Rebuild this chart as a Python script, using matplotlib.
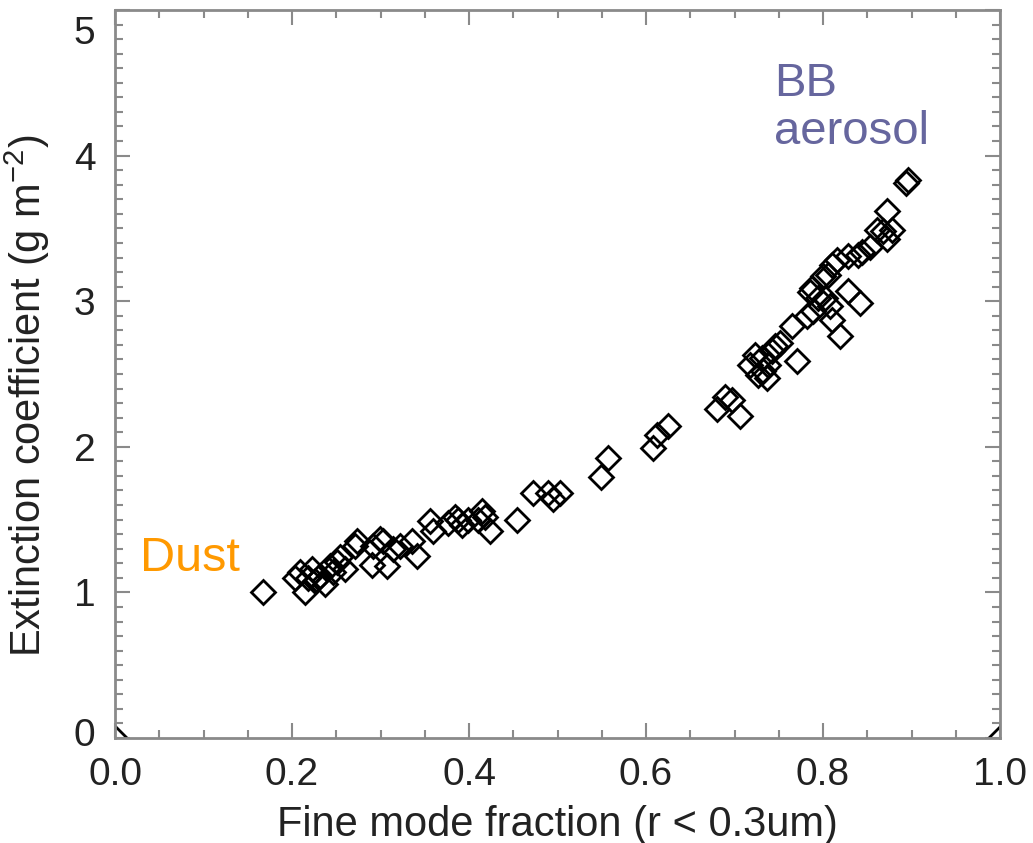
"""Extinction coefficient vs fine mode fraction (dust -> BB aerosol)."""

import matplotlib
matplotlib.use("Agg")
import matplotlib.pyplot as plt
from matplotlib.ticker import MultipleLocator
import matplotlib.transforms as mtransforms

plt.rcParams["font.family"] = ["Liberation Sans", "DejaVu Sans"]
plt.rcParams["mathtext.default"] = "regular"

# values
fine_fraction = [
    0.000, 1.000,
    0.167, 0.203, 0.209, 0.215, 0.223, 0.226, 0.232, 0.218, 0.243, 0.246,
    0.237, 0.251, 0.254, 0.260, 0.271, 0.273, 0.290, 0.292, 0.299, 0.303,
    0.307, 0.314, 0.322, 0.336, 0.341, 0.356, 0.359, 0.376, 0.388, 0.392,
    0.399, 0.384, 0.415, 0.418, 0.410, 0.424, 0.454, 0.472, 0.489, 0.495,
    0.503, 0.549, 0.557, 0.608, 0.612, 0.625, 0.680, 0.689, 0.697, 0.706,
    0.718, 0.723, 0.727, 0.732, 0.737, 0.738, 0.742, 0.746, 0.751, 0.731,
    0.771, 0.765, 0.782, 0.789, 0.794, 0.785, 0.802, 0.808, 0.810, 0.819,
    0.788, 0.800, 0.806, 0.810, 0.816, 0.828, 0.828, 0.842, 0.840, 0.844,
    0.853, 0.861, 0.868, 0.878, 0.872, 0.872, 0.896, 0.894,
]
extinction = [
    0.00, 0.00,
    1.00, 1.10, 1.14, 1.00, 1.16, 1.08, 1.11, 1.10, 1.18, 1.14,
    1.06, 1.21, 1.24, 1.16, 1.32, 1.35, 1.19, 1.32, 1.37, 1.35,
    1.18, 1.30, 1.32, 1.35, 1.25, 1.49, 1.42, 1.48, 1.50, 1.46,
    1.50, 1.52, 1.56, 1.52, 1.50, 1.42, 1.50, 1.68, 1.68, 1.64,
    1.68, 1.79, 1.92, 1.99, 2.08, 2.14, 2.26, 2.34, 2.32, 2.21,
    2.56, 2.63, 2.49, 2.52, 2.47, 2.56, 2.66, 2.69, 2.71, 2.61,
    2.59, 2.83, 2.90, 2.93, 3.02, 3.06, 3.02, 2.97, 2.87, 2.76,
    3.09, 3.17, 3.18, 3.25, 3.28, 3.31, 3.07, 2.99, 3.32, 3.34,
    3.37, 3.49, 3.48, 3.49, 3.43, 3.62, 3.83, 3.81,
]

x_ticks = [0.0, 0.2, 0.4, 0.6, 0.8, 1.0]
y_ticks = [0, 1, 2, 3, 4, 5]

fig = plt.figure(figsize=(10.33, 8.43), dpi=100)
ax = fig.add_axes([115 / 1033, 105 / 843, 885 / 1033, 728 / 843])

ax.plot(fine_fraction, extinction, linestyle="none", marker="D",
        markersize=12.5, markerfacecolor="none", markeredgecolor="black",
        markeredgewidth=2.0)

ax.set_xlim(0, 1)
ax.set_ylim(0, 5)
ax.set_xticks(x_ticks)
ax.set_xticklabels([f"{v:.1f}" for v in x_ticks])
ax.set_yticks(y_ticks)
ax.set_yticklabels([str(v) for v in y_ticks])
ax.xaxis.set_minor_locator(MultipleLocator(0.05))
ax.yaxis.set_minor_locator(MultipleLocator(0.1))

grey = "#8a8a8a"
for side in ax.spines.values():
    side.set_color(grey)
    side.set_linewidth(2.0)
ax.tick_params(which="both", direction="in", top=True, right=True,
               color=grey, width=1.5, labelsize=28, labelcolor="#222222")
ax.tick_params(which="major", length=11, pad=14)
ax.tick_params(which="minor", length=6)

# the top and bottom y labels sit inside the axis ends
ylabels = ax.get_yticklabels()
ylabels[-1].set_transform(ylabels[-1].get_transform()
                          + mtransforms.ScaledTranslation(0, -20 / 100, fig.dpi_scale_trans))
ylabels[0].set_transform(ylabels[0].get_transform()
                         + mtransforms.ScaledTranslation(0, 6 / 100, fig.dpi_scale_trans))

ax.set_xlabel("Fine mode fraction (r < 0.3um)", fontsize=30, color="#222222",
              labelpad=8)
ax.set_ylabel("Extinction coefficient (g m$^{-2}$)", fontsize=30,
              color="#222222")
ax.yaxis.set_label_coords(-0.071, 0.47)

ax.text(0.028, 1.15, "Dust", fontsize=35, color="#ff9900")
ax.text(0.745, 4.08, "BB\naerosol", fontsize=34, color="#66669e",
        linespacing=1.12)

fig.savefig("out.png", dpi=100)
